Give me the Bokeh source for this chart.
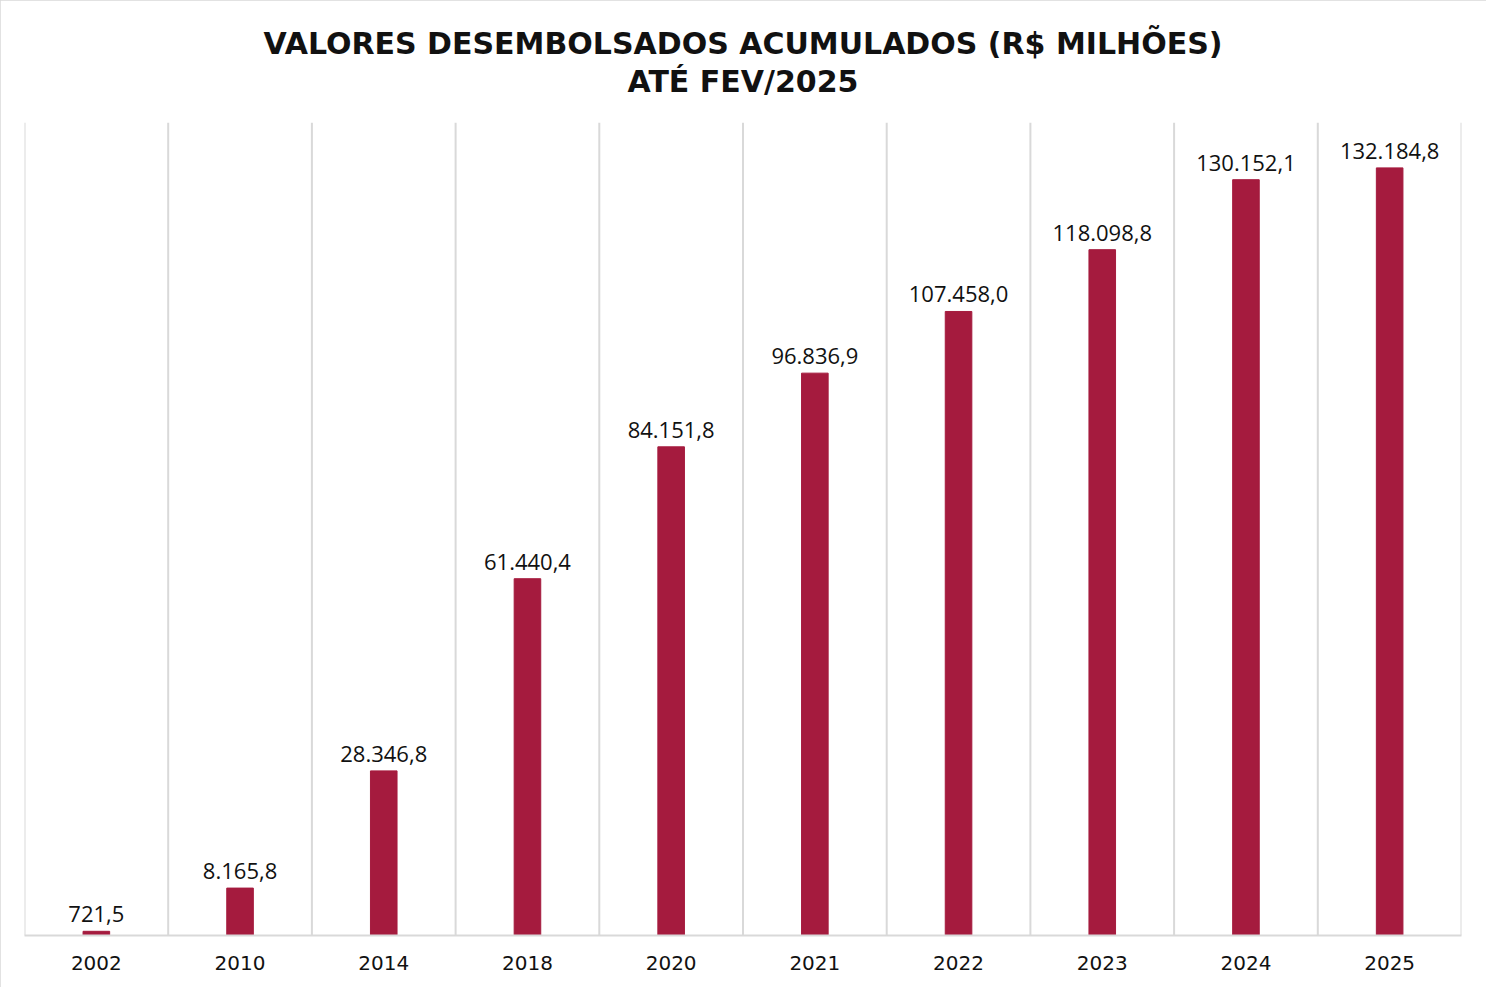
from bokeh.plotting import figure
from bokeh.models import ColumnDataSource, Span, Title, Range1d, FactorRange
from bokeh.embed import file_html
from bokeh.resources import INLINE
from bokeh.core.properties import value

years = ["2002", "2010", "2014", "2018", "2020", "2021", "2022", "2023", "2024", "2025"]
values = [721.5, 8165.8, 28346.8, 61440.4, 84151.8, 96836.9, 107458.0, 118098.8, 130152.1, 132184.8]

title_line1 = "VALORES DESEMBOLSADOS ACUMULADOS (R$ MILHÕES)"
title_line2 = "ATÉ FEV/2025"


def br(v):
    s = f"{v:,.1f}"
    return s.replace(",", "X").replace(".", ",").replace("X", ".")


labels = [br(v) for v in values]
src = ColumnDataSource(dict(x=years, top=values, label=labels))

BAR = "#A51B3E"
GRID = "#d9d9d9"

p = figure(width=1486, height=987, x_range=FactorRange(*years), y_range=Range1d(0, 140000),
           output_backend="svg", toolbar_location=None,
           min_border_left=24, min_border_right=25, min_border_bottom=52, min_border_top=12)
p.styles = {"outline": "2px solid #d9d9d9", "outline-offset": "-2px"}

p.title = Title(text=title_line1 + "\n" + title_line2, align="center", text_align="center",
                text_font="DejaVu Sans",
                text_font_size="30px", text_font_style="bold", text_color="#111111",
                text_line_height=1.08, standoff=47)

for i in range(len(years) + 1):
    p.add_layout(Span(location=i, dimension="height", line_color=GRID, line_width=2))

p.vbar(x="x", top="top", width=0.185, color=BAR, source=src)
p.text(x="x", y="top", text="label", source=src, text_align="center", text_baseline="bottom",
       y_offset=-9, text_font=value("Open Sans"), text_font_size="22px", text_color="#111111")

p.outline_line_color = None
p.xgrid.visible = False
p.ygrid.visible = False
p.yaxis.visible = False
p.xaxis.axis_line_color = GRID
p.xaxis.axis_line_width = 2
p.xaxis.major_tick_line_color = None
p.xaxis.minor_tick_line_color = None
p.xaxis.major_label_standoff = 14
p.xaxis.major_label_text_font = "DejaVu Sans"
p.xaxis.major_label_text_font_size = "20px"
p.xaxis.major_label_text_color = "#111111"
p.x_range.range_padding = 0
p.x_range.group_padding = 0
p.background_fill_color = "white"
p.border_fill_color = "white"

open("out.html", "w").write(file_html(p, INLINE))
